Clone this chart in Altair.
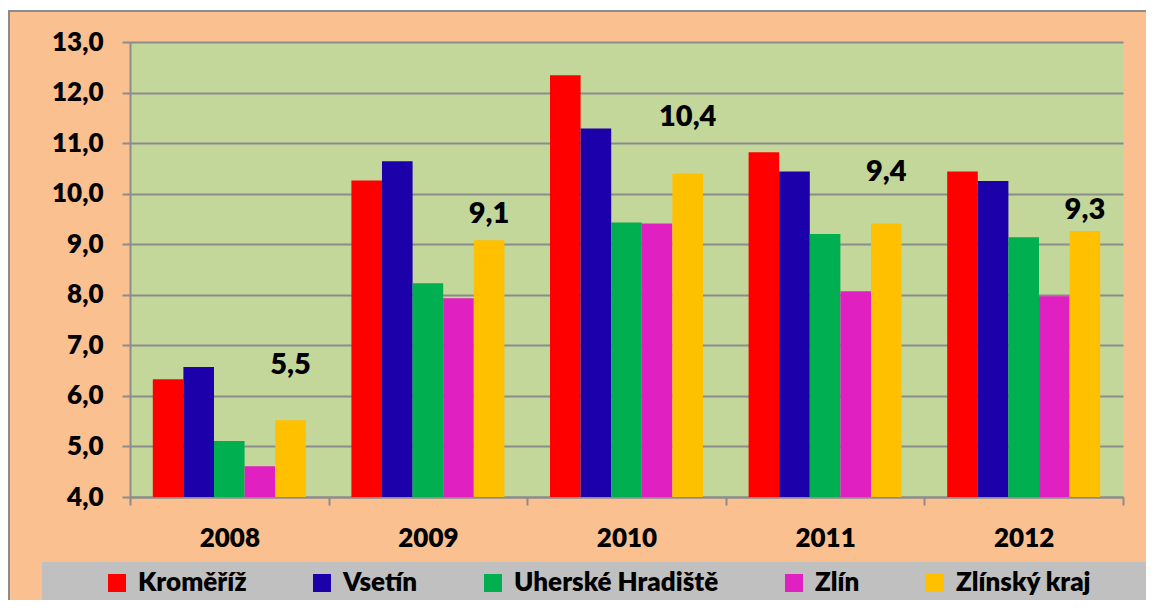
import altair as alt
import pandas as pd

years = ["2008", "2009", "2010", "2011", "2012"]
series = ["Kroměříž", "Vsetín", "Uherské Hradiště", "Zlín", "Zlínský kraj"]
kromeriz = [6.33, 10.26, 12.34, 10.82, 10.44]
vsetin = [6.57, 10.64, 11.29, 10.44, 10.25]
uh = [5.11, 8.23, 9.43, 9.20, 9.14]
zlin = [4.61, 7.93, 9.41, 8.07, 7.97]
kraj = [5.52, 9.08, 10.40, 9.41, 9.26]
y_ticks = [4, 5, 6, 7, 8, 9, 10, 11, 12, 13]

colors = ["#FF0000", "#1C00AA", "#00B050", "#E020C0", "#FFC000"]
label_dy = [-55, -26, -56, -51, -21]

FONT = "Lato"
WEIGHT = 800
GRAY = "#8C8C8C"
W, H = 993, 455

rows = []
for s, vals in zip(series, [kromeriz, vsetin, uh, zlin, kraj]):
    for yr, v in zip(years, vals):
        rows.append({"year": yr, "series": s, "value": v})
df = pd.DataFrame(rows)

x_enc = alt.X("year:N", sort=years, title=None,
              scale=alt.Scale(paddingInner=0, paddingOuter=0),
              axis=alt.Axis(labelAngle=0, labelFont=FONT, labelFontSize=26,
                            labelFontWeight=WEIGHT, labelColor="black",
                            labelPadding=20, domainColor=GRAY, domainWidth=2,
                            tickColor=GRAY, tickWidth=2, tickSize=8,
                            tickBand="extent", grid=False))
xoff_enc = alt.XOffset("series:N", sort=series,
                       scale=alt.Scale(domain=series, paddingInner=0, paddingOuter=0.745))
y_enc = alt.Y("value:Q", title=None,
              scale=alt.Scale(domain=[4, 13], nice=False, zero=False),
              axis=alt.Axis(values=y_ticks,
                            labelExpr="replace(format(datum.value, '.1f'), '.', ',')",
                            labelFont=FONT, labelFontSize=26, labelFontWeight=WEIGHT,
                            labelColor="black", labelPadding=19,
                            domainColor=GRAY, domainWidth=2,
                            tickColor=GRAY, tickWidth=2, tickSize=8,
                            gridColor=GRAY, gridWidth=2, gridOpacity=1))

bars = alt.Chart(df).mark_bar(clip=True).encode(
    x=x_enc,
    xOffset=xoff_enc,
    y=y_enc,
    color=alt.Color("series:N", sort=series,
                    scale=alt.Scale(domain=series, range=colors),
                    legend=alt.Legend(orient="none", legendX=-26, legendY=528,
                                      direction="horizontal", title=None,
                                      symbolType="square", symbolSize=324,
                                      symbolStrokeWidth=0, labelFontSize=26,
                                      labelFont=FONT, labelFontWeight=WEIGHT,
                                      labelColor="black", labelOffset=8,
                                      columnPadding=62, padding=0, labelLimit=0)),
)

one = pd.DataFrame({"a": [0]})
legend_box = alt.Chart(one).mark_rect(color="#C0C0C0").encode(
    x=alt.value(-88), x2=alt.value(1018), y=alt.value(520), y2=alt.value(600))
frame = alt.Chart(one).mark_rect(fill="white", stroke=None).encode(
    x=alt.value(-130), x2=alt.value(1100), y=alt.value(-40), y2=alt.value(-32))
frame_line = alt.Chart(one).mark_rect(fillOpacity=0, stroke=GRAY, strokeWidth=2).encode(
    x=alt.value(-121), x2=alt.value(1100), y=alt.value(-31), y2=alt.value(700))

kraj_df = df[df["series"] == "Zlínský kraj"]
texts = []
for yr, dy in zip(years, label_dy):
    t = alt.Chart(kraj_df[kraj_df["year"] == yr]).transform_calculate(
        lab="replace(format(datum.value, '.1f'), '.', ',')"
    ).mark_text(dy=dy, font=FONT, fontSize=29, fontWeight=WEIGHT, color="black").encode(
        x=alt.X("year:N", sort=years),
        xOffset=alt.XOffset("series:N", sort=series),
        y=alt.Y("value:Q"),
        text="lab:N",
    )
    texts.append(t)

chart = alt.layer(legend_box, frame, frame_line, bars, *texts).properties(
    width=W, height=H,
    background="#FAC090",
    padding={"left": 122, "top": 34, "right": 23, "bottom": 103},
    autosize=alt.AutoSizeParams(type="none"),
).configure_view(fill="#C4D79B", stroke=None)

chart.save("out.html", embed_options={"renderer": "svg", "actions": False})
